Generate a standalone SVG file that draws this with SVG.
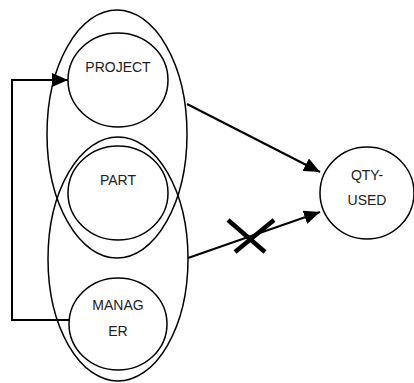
<svg xmlns="http://www.w3.org/2000/svg" width="414" height="383" viewBox="0 0 414 383">
  <style>
    .shape { fill: none; stroke: #000; stroke-width: 1.5; }
    .node ellipse { fill: none; stroke: #000; stroke-width: 1.5; }
    .label { font-family: "Liberation Sans", Arial, sans-serif; font-size: 14px; fill: #222; text-anchor: middle; }
    .edge { fill: none; stroke: #000; stroke-width: 2; }
    .cross { stroke: #000; stroke-width: 4.5; }
  </style>
  <defs>
    <marker id="arrow" viewBox="0 0 16 14" refX="16" refY="7" markerWidth="16" markerHeight="14" markerUnits="userSpaceOnUse" orient="auto">
      <path d="M0,0 L16,7 L0,14 Z" fill="#000"/>
    </marker>
  </defs>

  <!-- grouping ellipses -->
  <g id="group-upper">
    <ellipse class="shape" cx="117" cy="134" rx="70" ry="124"/>
  </g>
  <g id="group-lower">
    <ellipse class="shape" cx="118" cy="259" rx="70" ry="122"/>
  </g>

  <g id="project" class="node">
    <ellipse cx="118" cy="80" rx="50" ry="47"/>
    <text class="label" x="118" y="72">PROJECT</text>
  </g>
  <g id="part" class="node">
    <ellipse cx="118" cy="193" rx="50" ry="47"/>
    <text class="label" x="118" y="185">PART</text>
  </g>
  <g id="manager" class="node">
    <ellipse cx="118" cy="324" rx="49" ry="46"/>
    <text class="label" x="118" y="310">MANAG</text>
    <text class="label" x="118" y="336">ER</text>
  </g>
  <g id="qty-used" class="node">
    <ellipse cx="367" cy="193" rx="47" ry="46"/>
    <text class="label" x="367" y="180">QTY-</text>
    <text class="label" x="367" y="205">USED</text>
  </g>

  <g id="connectors">
    <path class="edge" d="M69,320 H12 V80 H68" marker-end="url(#arrow)"/>
    <path class="edge" d="M187,104 L320,172" marker-end="url(#arrow)"/>
    <path class="edge" d="M188,258 L320,212" marker-end="url(#arrow)"/>
    <line class="cross" x1="228" y1="220" x2="265" y2="252"/>
    <line class="cross" x1="235" y1="252" x2="274" y2="220"/>
  </g>
</svg>
